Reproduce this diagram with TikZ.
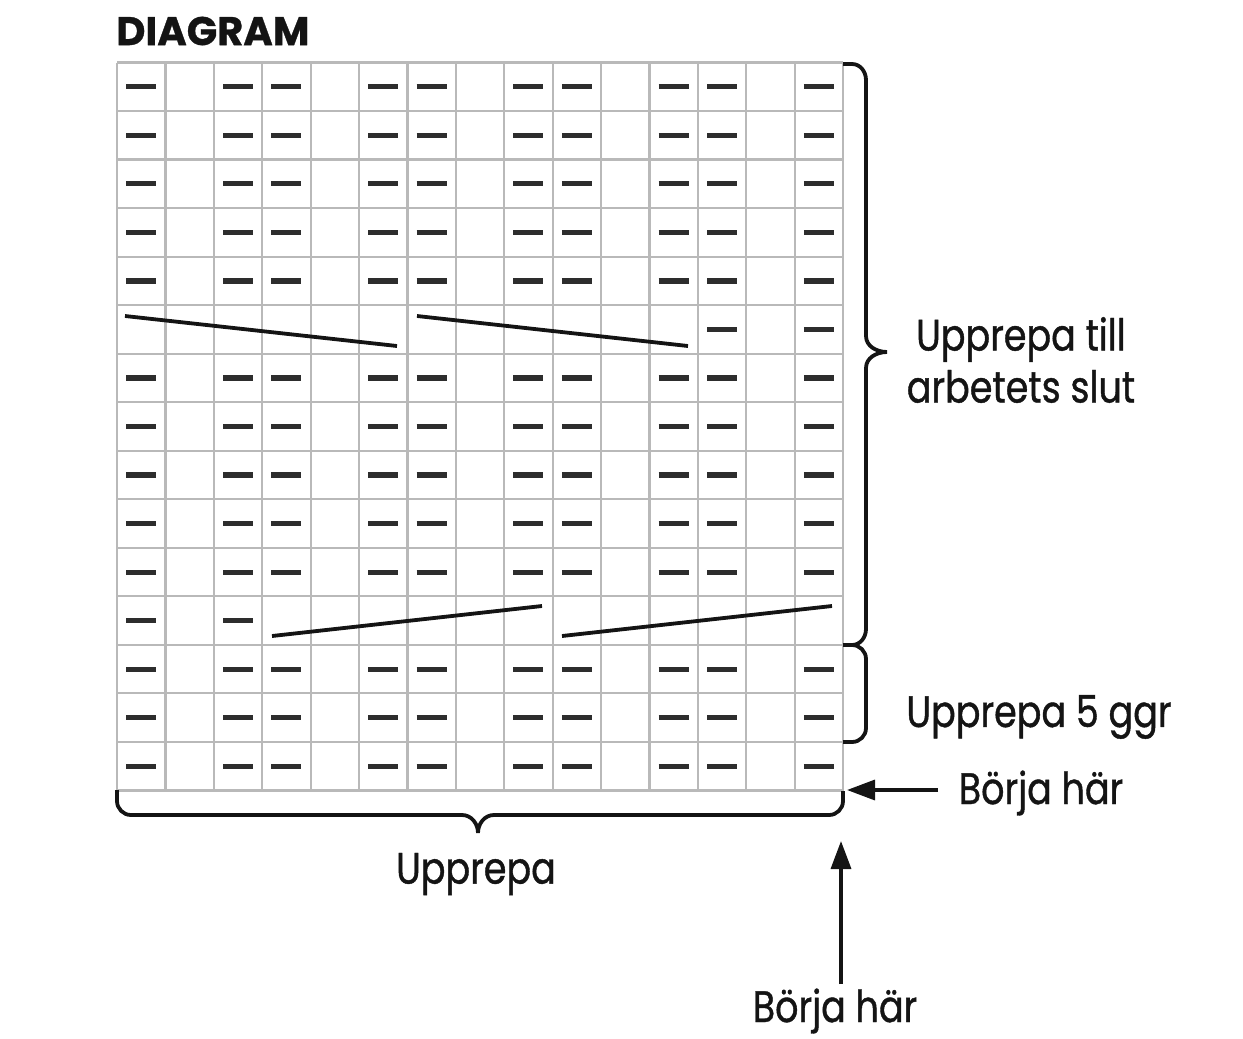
\documentclass[tikz,border=0pt]{standalone}
\usepackage{fontspec}
\usetikzlibrary{arrows.meta}
\newfontfamily\lblfamily{Poppins}[FakeStretch=0.83,FakeBold=0.9]
\newfontfamily\ttlfamily{Poppins}[FakeBold=0.8]
\definecolor{gridgray}{RGB}{185,185,185}
\definecolor{dashgray}{RGB}{45,45,45}
\definecolor{inkblack}{RGB}{20,20,20}
\begin{document}
\begin{tikzpicture}[x=0.5pt,y=-0.5pt,
  gridline/.style={draw=gridgray,line width=1.1pt},
  purl/.style={draw=dashgray,line width=2.6pt},
  cable/.style={draw=inkblack,line width=1.9pt},
  brace/.style={draw=inkblack,line width=1.9pt},
  arr/.style={draw=inkblack,line width=1.7pt,-{Triangle[length=14pt,width=10pt]}},
  lbl/.style={font=\lblfamily\fontsize{22}{26}\selectfont, inner sep=0pt, text=inkblack},
  ttl/.style={font=\ttlfamily\bfseries\fontsize{20}{24}\selectfont, inner sep=0pt, text=inkblack, anchor=west}]
\useasboundingbox (0,0) rectangle (1243,1039);
% title
\node[ttl] (title) at (116,31) {DIAGRAM};
% grid
\foreach \i in {0,...,15} \draw[gridline] ({117+48.4*\i},62.5) -- ({117+48.4*\i},790.5);
\foreach \j in {0,...,15} \draw[gridline] (117,{62.5+48.53*\j}) -- (843,{62.5+48.53*\j});
% purl dashes
\foreach \r in {0,1,2,3,4,6,7,8,9,10,12,13,14}
  \foreach \c in {0,2,3,5,6,8,9,11,12,14}
    \draw[purl] ({126.2+48.4*\c},{86.8+48.53*\r}) -- ++(30,0);
\foreach \c in {12,14} \draw[purl] ({126.2+48.4*\c},{86.8+48.53*5}) -- ++(30,0);
\foreach \c in {0,2} \draw[purl] ({126.2+48.4*\c},{86.8+48.53*11}) -- ++(30,0);
% cables
\draw[cable] (125,316) -- (397,346);
\draw[cable] (417,316) -- (688,346);
\draw[cable] (272,636) -- (542,606);
\draw[cable] (562,636) -- (832,606);
% right brace (upper)
\draw[brace] (843,64) -- (852,64) to[out=0,in=90] (866,80) -- (866,336)
  to[out=-90,in=180] (887,352) to[out=180,in=90] (866,368) -- (866,629)
  to[out=-90,in=0] (852,645) -- (843,645);
% right bracket (lower)
\draw[brace] (852,645) to[out=0,in=90] (866,659) -- (866,728) to[out=-90,in=0] (852,742) -- (843,742);
% bottom brace
\draw[brace] (117,790) -- (117,801) to[out=-90,in=180] (131,815) -- (462,815)
  to[out=0,in=90] (478,833) to[out=90,in=180] (494,815) -- (829,815)
  to[out=0,in=-90] (843,801) -- (843,791);
% labels
\node[lbl, align=center] (rep1) at (1021,360) {Upprepa till\\arbetets slut};
\node[lbl] (rep5) at (1039,717) {Upprepa 5 ggr};
\node[lbl] (repb) at (476,874) {Upprepa};
\node[lbl] (start1) at (1041,793) {Börja här};
\node[lbl] (start2) at (835,1011) {Börja här};
% arrows
\coordinate (a1s) at (938,790);
\coordinate (a1e) at (847,790);
\coordinate (a2s) at (841,984);
\coordinate (a2e) at (841,841);
\draw[arr] (a1s) -- (a1e);
\draw[arr] (a2s) -- (a2e);
\end{tikzpicture}
\end{document}
